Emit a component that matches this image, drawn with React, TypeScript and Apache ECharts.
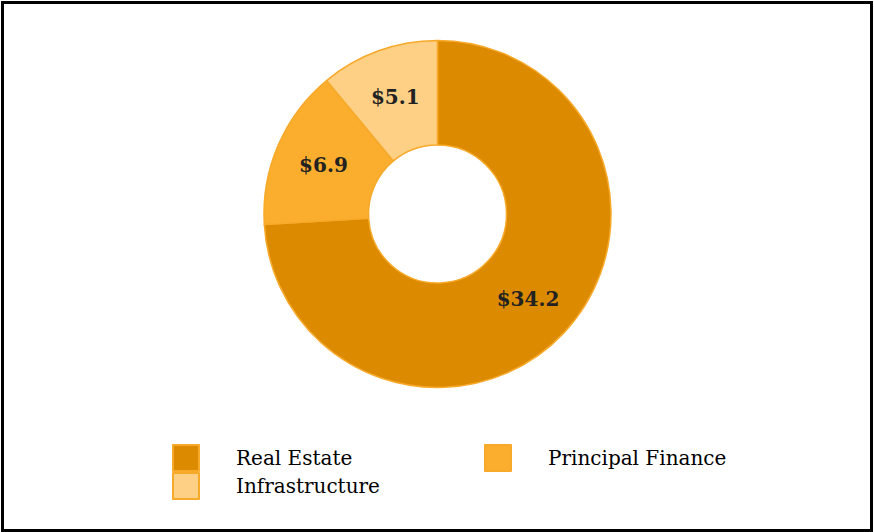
import React, { useEffect, useRef } from "react";
import * as echarts from "echarts";

const categories = ["Real Estate", "Principal Finance", "Infrastructure"];
const values = [34.2, 6.9, 5.1];
const colors = ["#DC8A00", "#FBAD2E", "#FDD085"];

export default function App() {
  const ref = useRef<HTMLDivElement>(null);
  useEffect(() => {
    if (!ref.current) return;
    const chart = echarts.init(ref.current, null, { renderer: "svg" });
    const font = "DejaVu Serif";
    const legendBase = {
      orient: "horizontal" as const,
      padding: 0,
      itemWidth: 26,
      itemHeight: 26,
      icon: "rect",
      selectedMode: false,
      textStyle: {
        fontFamily: font,
        fontSize: 20,
        color: "#000",
        padding: [8, 0, 0, 32],
      },
    };
    chart.setOption({
      animation: false,
      backgroundColor: "#fff",
      textStyle: { fontFamily: font },
      legend: [
        { ...legendBase, data: [categories[0]], left: 172, top: 444 },
        { ...legendBase, data: [categories[1]], left: 484, top: 444 },
        { ...legendBase, data: [categories[2]], left: 172, top: 472 },
      ],
      series: [
        {
          type: "pie",
          center: [437.5, 214],
          radius: [69, 173.5],
          startAngle: 90,
          clockwise: true,
          avoidLabelOverlap: false,
          itemStyle: { borderColor: "#F7A92A", borderWidth: 1.5 },
          label: {
            show: true,
            position: "inside",
            formatter: (p: any) => "$" + p.value.toFixed(1),
            fontFamily: font,
            fontWeight: "bold",
            fontSize: 20,
            color: "#222",
            padding: [8, 0, 0, 0],
          },
          labelLine: { show: false },
          emphasis: { disabled: true },
          data: categories.map((name, i) => ({
            name,
            value: values[i],
            itemStyle: { color: colors[i] },
          })),
        },
      ],
    });
    return () => chart.dispose();
  }, []);
  return (
    <div style={{ position: "fixed", left: 0, top: 0, width: 874, height: 532, background: "#fff" }}>
      <div ref={ref} style={{ position: "absolute", left: 0, top: 0, width: 874, height: 532 }} />
      <div
        style={{
          position: "absolute",
          left: 1,
          top: 1,
          width: 872,
          height: 531,
          boxSizing: "border-box",
          border: "3px solid #000",
          pointerEvents: "none",
        }}
      />
    </div>
  );
}
